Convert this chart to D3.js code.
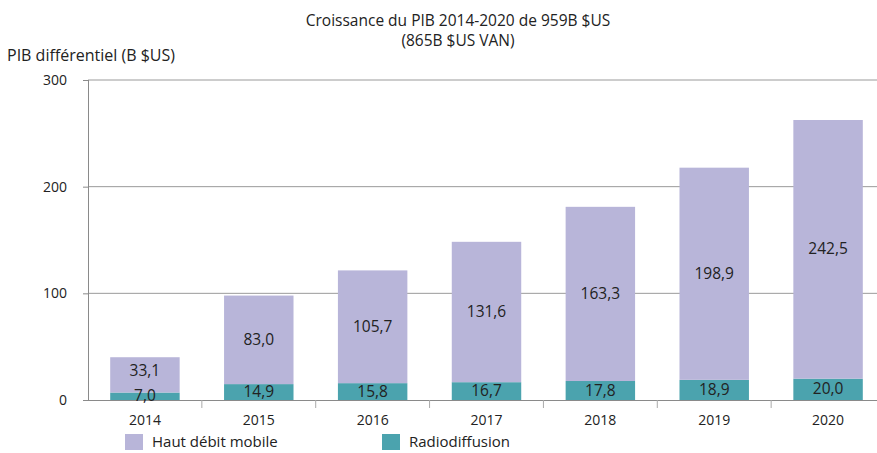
<!DOCTYPE html>
<html>
<head>
<meta charset="utf-8">
<script src="https://cdn.jsdelivr.net/npm/d3@7"></script>
<style>
  body { margin: 0; background: #fff; }
  text { font-family: "Open Sans", sans-serif; fill: #222; }
</style>
</head>
<body>
<svg id="chart" width="877" height="453"></svg>
<script>
// data
let years = ['2014', '2015', '2016', '2017', '2018', '2019', '2020'];
let radio = [7.0, 14.9, 15.8, 16.7, 17.8, 18.9, 20.0];
let mobile = [33.1, 83.0, 105.7, 131.6, 163.3, 198.9, 242.5];
let yTicks = [0, 100, 200, 300];
let seriesNames = ['Haut débit mobile', 'Radiodiffusion'];
let colors = { mobile: '#b8b5d9', radio: '#4ba3ae' };

let svg = d3.select('#chart');

let x = d3.scaleBand()
  .domain(years)
  .range([88, 885])
  .paddingInner(0.39)
  .paddingOuter(0.195);

let y = d3.scaleLinear()
  .domain([0, 300])
  .range([400, 80]);

let fmt = v => v.toFixed(1).replace('.', ',');

// gridlines
svg.append('g')
  .selectAll('line')
  .data(yTicks.filter(d => d > 0))
  .enter().append('line')
  .attr('x1', 88).attr('x2', 877)
  .attr('y1', d => y(d)).attr('y2', d => y(d))
  .style('stroke', '#9a9a9a')
  .style('stroke-width', 1);

// y axis
let yAxis = svg.append('g')
  .attr('transform', 'translate(88,0)')
  .call(d3.axisLeft(y).tickValues(yTicks).tickSize(5).tickPadding(16).tickFormat(d3.format('d')));
yAxis.select('.domain').style('stroke', '#8a8a8a').attr('d', 'M0.5,' + y(300) + 'V' + y(0));
yAxis.selectAll('.tick line').style('stroke', '#8a8a8a');
yAxis.selectAll('text').style('font-size', '14px').style('font-family', '"Open Sans", sans-serif').style('fill', '#222');

// stacked bars
let rows = years.map((yr, i) => ({ year: yr, radio: radio[i], mobile: mobile[i] }));

svg.append('g').selectAll('rect.radio')
  .data(rows)
  .enter().append('rect')
  .attr('x', d => x(d.year))
  .attr('width', x.bandwidth())
  .attr('y', d => y(d.radio))
  .attr('height', d => y(0) - y(d.radio))
  .style('fill', colors.radio);

svg.append('g').selectAll('rect.mobile')
  .data(rows)
  .enter().append('rect')
  .attr('x', d => x(d.year))
  .attr('width', x.bandwidth())
  .attr('y', d => y(d.radio + d.mobile))
  .attr('height', d => y(d.radio) - y(d.radio + d.mobile))
  .style('fill', colors.mobile);

// x axis baseline and ticks between bands
let xAxis = svg.append('g');
xAxis.append('line')
  .attr('x1', 84).attr('x2', 877)
  .attr('y1', y(0) + 0.5).attr('y2', y(0) + 0.5)
  .style('stroke', '#8a8a8a');
xAxis.selectAll('line.sep')
  .data(years.slice(1))
  .enter().append('line')
  .attr('x1', d => x(d) - x.step() * x.paddingInner() / 2)
  .attr('x2', d => x(d) - x.step() * x.paddingInner() / 2)
  .attr('y1', y(0)).attr('y2', y(0) + 8)
  .style('stroke', '#aaa');
xAxis.selectAll('text')
  .data(years)
  .enter().append('text')
  .attr('x', d => x(d) + x.bandwidth() / 2)
  .attr('y', y(0) + 25)
  .attr('text-anchor', 'middle')
  .style('font-size', '14px')
  .text(d => d);

// value labels
svg.append('g').selectAll('text')
  .data(rows)
  .enter().append('text')
  .attr('x', d => x(d.year) + x.bandwidth() / 2)
  .attr('y', d => Math.min((y(d.radio) + y(d.radio + d.mobile)) / 2, y(d.radio) - 22) + 5)
  .attr('text-anchor', 'middle')
  .style('font-size', '15.5px')
  .text(d => fmt(d.mobile));

svg.append('g').selectAll('text')
  .data(rows)
  .enter().append('text')
  .attr('x', d => x(d.year) + x.bandwidth() / 2)
  .attr('y', d => Math.min((y(0) + y(d.radio)) / 2 + 5, y(0) + 2))
  .attr('text-anchor', 'middle')
  .style('font-size', '15.5px')
  .text(d => fmt(d.radio));

// titles
svg.append('text')
  .attr('x', 458).attr('y', 26)
  .attr('text-anchor', 'middle')
  .style('font-size', '15.5px')
  .text('Croissance du PIB 2014-2020 de 959B $US');
svg.append('text')
  .attr('x', 458).attr('y', 46)
  .attr('text-anchor', 'middle')
  .style('font-size', '15.5px')
  .text('(865B $US VAN)');
svg.append('text')
  .attr('x', 7).attr('y', 61)
  .style('font-size', '16px')
  .text('PIB différentiel (B $US)');

// legend
let legend = svg.append('g').selectAll('g')
  .data(seriesNames)
  .enter().append('g')
  .attr('transform', (d, i) => 'translate(' + [125, 382][i] + ',434)');
legend.append('rect')
  .attr('width', 18).attr('height', 16)
  .style('fill', (d, i) => i === 0 ? colors.mobile : colors.radio);
legend.append('text')
  .attr('x', 27).attr('y', 13)
  .style('font-size', '15px')
  .text(d => d);
</script>
</body>
</html>
